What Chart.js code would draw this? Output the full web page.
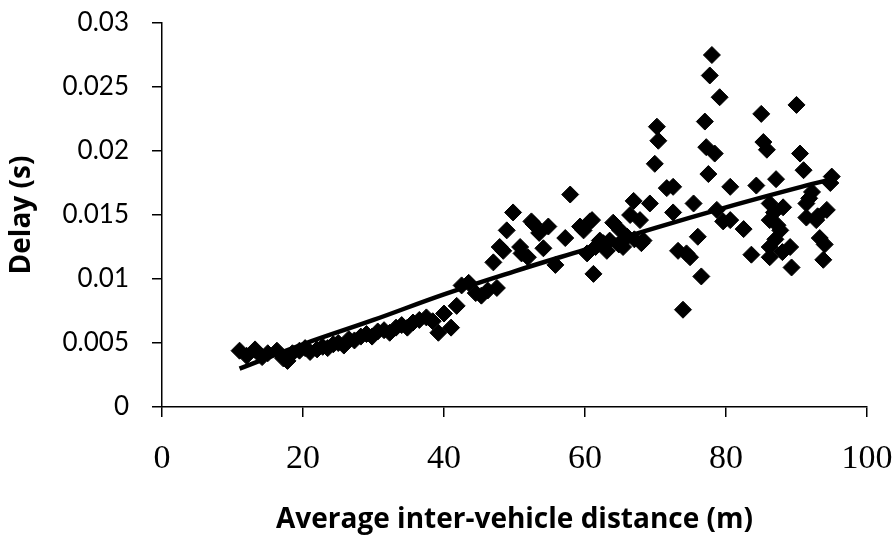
<!DOCTYPE html>
<html>
<head>
<meta charset="utf-8">
<script src="https://cdn.jsdelivr.net/npm/chart.js@4.4.1/dist/chart.umd.min.js"></script>
<style>
  html, body { margin: 0; padding: 0; background: #ffffff; }
  #wrap { width: 892px; height: 542px; }
</style>
</head>
<body>
<div id="wrap"><canvas id="delayChart" width="892" height="542"></canvas></div>
<script>
// measured delay per average spacing (m, s)
const distance = [
  11.0, 12.0, 13.2, 14.2, 15.0, 16.3, 17.2, 17.8, 18.5, 19.5,
  20.3, 21.0, 22.0, 22.8, 23.5, 24.3, 25.0, 25.8, 26.5, 27.3,
  28.2, 29.0, 29.8, 30.6, 31.5, 32.3, 33.2, 34.0, 34.8, 35.6,
  36.5, 37.5, 38.4, 39.2, 40.0, 41.0, 41.8, 42.5, 43.5, 44.5,
  45.3, 46.2, 47.0, 47.5, 47.9, 48.4, 48.9, 49.8, 50.8, 51.0,
  51.9, 52.4, 52.7, 53.5, 54.1, 54.8, 55.8, 57.2, 57.9, 59.3,
  59.8, 60.3, 60.7, 61.0, 61.2, 61.5, 62.1, 62.6, 63.1, 63.5,
  64.0, 64.8, 65.0, 65.4, 66.0, 66.4, 66.9, 67.0, 67.8, 68.0,
  68.3, 69.2, 69.9, 70.2, 70.4, 71.6, 72.5, 72.5, 73.2, 73.9,
  74.4, 74.9, 75.4, 76.0, 76.5, 77.0, 77.2, 77.5, 77.7, 78.0,
  78.4, 78.7, 79.1, 79.6, 80.6, 80.6, 82.5, 83.6, 84.3, 85.0,
  85.3, 85.8, 86.2, 86.2, 86.2, 86.2, 86.8, 87.0, 87.1, 87.3,
  87.7, 88.0, 88.1, 89.1, 89.3, 90.0, 90.5, 91.0, 91.4, 91.4,
  91.8, 92.2, 92.8, 93.0, 93.3, 93.8, 94.0, 94.3, 94.8, 95.0
];
const delay = [
  0.0044, 0.0040, 0.0045, 0.0039, 0.0042, 0.0044, 0.0038, 0.0036, 0.0042, 0.0044,
  0.0046, 0.0043, 0.0045, 0.0047, 0.0046, 0.0049, 0.0050, 0.0048, 0.0053, 0.0052,
  0.0055, 0.0057, 0.0055, 0.0059, 0.0060, 0.0058, 0.0062, 0.0064, 0.0062, 0.0066,
  0.0068, 0.0070, 0.0067, 0.0058, 0.0073, 0.0062, 0.0079, 0.0095, 0.0097, 0.0089,
  0.0087, 0.0091, 0.0113, 0.0093, 0.0125, 0.0122, 0.0138, 0.0152, 0.0125, 0.0120,
  0.0117, 0.0145, 0.0143, 0.0136, 0.0124, 0.0141, 0.0111, 0.0132, 0.0166, 0.0141,
  0.0138, 0.0120, 0.0145, 0.0146, 0.0104, 0.0125, 0.0130, 0.0128, 0.0122, 0.0130,
  0.0144, 0.0127, 0.0138, 0.0125, 0.0133, 0.0150, 0.0161, 0.0131, 0.0146, 0.0128,
  0.0130, 0.0159, 0.0190, 0.0219, 0.0208, 0.0171, 0.0172, 0.0152, 0.0122, 0.0076,
  0.0120, 0.0117, 0.0159, 0.0133, 0.0102, 0.0223, 0.0203, 0.0182, 0.0259, 0.0275,
  0.0198, 0.0154, 0.0242, 0.0145, 0.0172, 0.0146, 0.0139, 0.0119, 0.0173, 0.0229,
  0.0207, 0.0201, 0.0159, 0.0146, 0.0125, 0.0117, 0.0152, 0.0131, 0.0178, 0.0142,
  0.0138, 0.0121, 0.0156, 0.0125, 0.0109, 0.0236, 0.0198, 0.0185, 0.0159, 0.0148,
  0.0163, 0.0168, 0.0146, 0.0149, 0.0132, 0.0115, 0.0127, 0.0154, 0.0175, 0.0180
];

// fitted trend curve
const trendX = [11, 20, 30, 40, 50, 60, 70, 80, 90, 95];
const trendY = [0.0030, 0.0049, 0.0068, 0.0088, 0.0106, 0.0123, 0.0140, 0.0156, 0.0171, 0.0178];

const xTicks = [0, 20, 40, 60, 80, 100];
const yTicks = [0, 0.005, 0.01, 0.015, 0.02, 0.025, 0.03];

const points = distance.map((d, i) => ({ x: d, y: delay[i] }));
const trend = trendX.map((d, i) => ({ x: d, y: trendY[i] }));

const sans = "Lato, 'Noto Sans', sans-serif";
const titleFont = { family: "'Open Sans', sans-serif", size: 28, weight: 'bold' };

new Chart(document.getElementById('delayChart').getContext('2d'), {
  type: 'scatter',
  data: {
    datasets: [
      {
        type: 'line',
        data: trend,
        borderColor: '#000',
        borderWidth: 4.5,
        pointRadius: 0,
        tension: 0.4,
        fill: false
      },
      {
        data: points,
        pointStyle: 'rectRot',
        pointRadius: 8.5,
        backgroundColor: '#000',
        borderColor: '#000',
        borderWidth: 1
      }
    ]
  },
  options: {
    responsive: false,
    animation: false,
    layout: { padding: { top: 23, right: 25, left: 0, bottom: 0 } },
    plugins: { legend: { display: false }, tooltip: { enabled: false } },
    scales: {
      x: {
        type: 'linear',
        min: 0,
        max: 100,
        afterBuildTicks: s => { s.ticks = xTicks.map(v => ({ value: v })); },
        afterFit: s => { s.height = 135; s.paddingLeft = 0; s.paddingRight = 0; },
        border: { color: '#000', width: 1.5 },
        grid: { drawOnChartArea: false, tickLength: 10, color: '#000', lineWidth: 1.5 },
        ticks: {
          color: '#000',
          padding: 22,
          maxRotation: 0,
          font: { family: "'Liberation Serif', serif", size: 34 }
        },
        title: {
          display: true,
          text: 'Average inter-vehicle distance (m)',
          color: '#000',
          padding: { top: 0, bottom: 5 },
          font: titleFont
        }
      },
      y: {
        type: 'linear',
        min: 0,
        max: 0.03,
        afterBuildTicks: s => { s.ticks = yTicks.map(v => ({ value: v })); },
        afterFit: s => { s.width = 162; s.paddingTop = 0; s.paddingBottom = 0; },
        border: { color: '#000', width: 1.5 },
        grid: { drawOnChartArea: false, tickLength: 10, color: '#000', lineWidth: 1.5 },
        ticks: {
          color: '#000',
          padding: 23,
          callback: v => String(+v.toFixed(3)),
          font: { family: sans, size: 26 }
        },
        title: {
          display: true,
          text: 'Delay (s)',
          color: '#000',
          padding: { top: 5, bottom: 0 },
          font: titleFont
        }
      }
    }
  }
});
</script>
</body>
</html>
